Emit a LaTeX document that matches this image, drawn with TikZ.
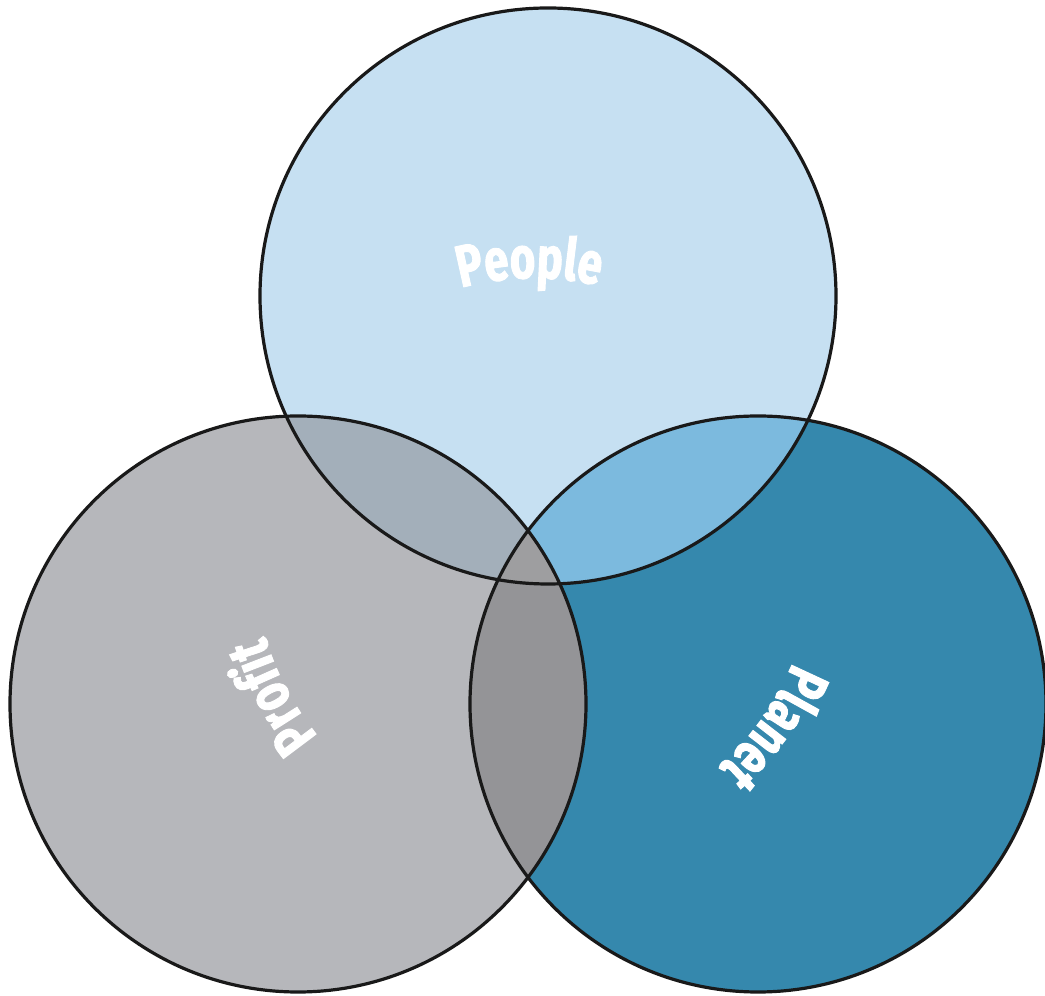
\documentclass[tikz,border=0pt]{standalone}
\usepackage{fontspec}
\newfontfamily\lblfont{Fira Sans}[FakeStretch=0.74, FakeBold=1.6]
\usetikzlibrary{decorations.text,calc}
\definecolor{peoplec}{HTML}{C6E0F2}
\definecolor{profitc}{HTML}{B6B7BB}
\definecolor{planetc}{HTML}{3588AD}
\definecolor{tlc}{HTML}{A3AFBA}
\definecolor{trc}{HTML}{7CBADE}
\definecolor{lrc}{HTML}{949497}
\definecolor{allc}{HTML}{9E9EA0}
\tikzset{
  outline/.style={draw=black!90, line width=3.2pt},
  arclabel/.style={decorate, decoration={text along path, text align=center, text color=white,
    text={|\lblfont\bfseries\fontsize{59}{64}\selectfont|#1}}}
}
\begin{document}
\begin{tikzpicture}[x=1pt,y=1pt]
\useasboundingbox (0,0) rectangle (1045,996);
\fill[white] (0,0) rectangle (1045,996);
\coordinate (T) at (548,700);
\coordinate (L) at (298,292);
\coordinate (R) at (758,292);
\coordinate (C) at (534.5,439);
\def\rad{288pt}
\fill[peoplec] (T) circle[radius=\rad];
\fill[profitc] (L) circle[radius=\rad];
\fill[planetc] (R) circle[radius=\rad];
\begin{scope}
  \clip (T) circle[radius=\rad];
  \fill[tlc] (L) circle[radius=\rad];
  \fill[trc] (R) circle[radius=\rad];
\end{scope}
\begin{scope}
  \clip (L) circle[radius=\rad];
  \fill[lrc] (R) circle[radius=\rad];
  \clip (R) circle[radius=\rad];
  \fill[allc] (T) circle[radius=\rad];
\end{scope}
\draw[outline] (T) circle[radius=\rad];
\draw[outline] (L) circle[radius=\rad];
\draw[outline] (R) circle[radius=\rad];
\path[arclabel=People] ($(C)+(121:279pt)$) arc[start angle=121, end angle=61, radius=279pt];
\path[arclabel=Profit] ($(C)+(238:281pt)$) arc[start angle=238, end angle=178, radius=281pt];
\path[arclabel=Planet] ($(C)+(-5.5:279pt)$) arc[start angle=-5.5, end angle=-65.5, radius=279pt];
\end{tikzpicture}
\end{document}
